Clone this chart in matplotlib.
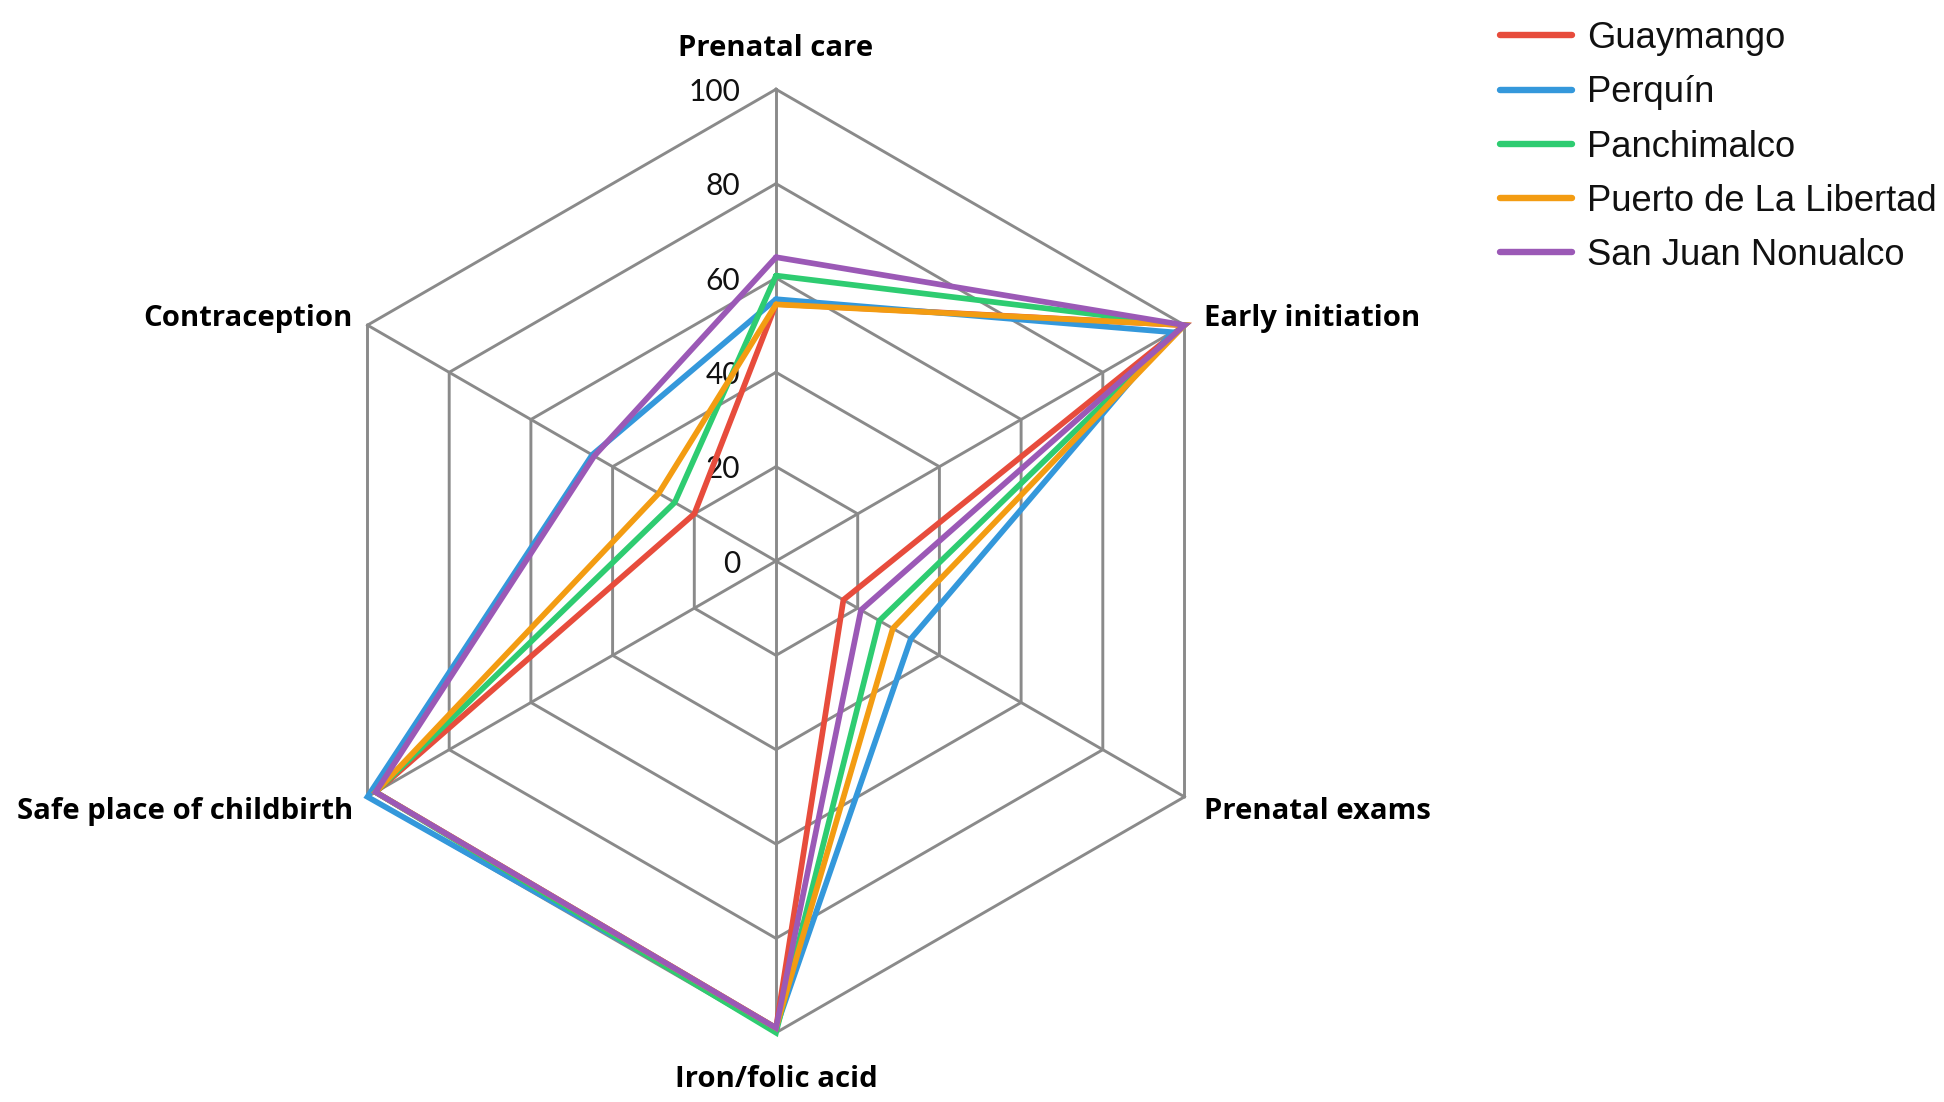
import numpy as np
import matplotlib
matplotlib.use("Agg")
import matplotlib.pyplot as plt

categories = ["Prenatal care", "Early initiation", "Prenatal exams",
              "Iron/folic acid", "Safe place of childbirth", "Contraception"]
series_names = ["Guaymango", "Perquín", "Panchimalco",
                "Puerto de La Libertad", "San Juan Nonualco"]
guaymango = [54.5, 100, 16.5, 99, 98, 20.0]
perquin = [55.5, 97, 33.0, 99, 100, 45.0]
panchimalco = [60.5, 100, 25.3, 100, 98, 24.8]
puerto = [54.4, 100, 28.6, 99, 98, 28.7]
san_juan = [64.4, 100, 20.8, 99, 98, 44.5]
tick_values = [0, 20, 40, 60, 80, 100]
tick_labels = ["0", "20", "40", "60", "80", "100"]

colors = ["#E74C3C", "#3498DB", "#2ECC71", "#F39C12", "#9B59B6"]
series = [guaymango, perquin, panchimalco, puerto, san_juan]

W, H = 1944, 1102
dpi = 100
fig = plt.figure(figsize=(W / dpi, H / dpi), dpi=dpi)
ax = fig.add_axes([0, 0, 1, 1])
cx, cy, R = 776.0, 561.0, 471.7
s = R / 100.0
ax.set_xlim(-cx / s, (W - cx) / s)
ax.set_ylim(-(H - cy) / s, cy / s)
ax.axis("off")

n = len(categories)
angles = np.deg2rad(90 - 60 * np.arange(n))
ca, sa = np.cos(angles), np.sin(angles)

grid_color = "#8A8A8A"
# hexagonal grid rings
for v in tick_values[1:]:
    xs = np.append(ca * v, ca[0] * v)
    ys = np.append(sa * v, sa[0] * v)
    ax.plot(xs, ys, color=grid_color, lw=2.1, zorder=1, solid_joinstyle="miter")
# spokes
for i in range(n):
    ax.plot([0, ca[i] * 100], [0, sa[i] * 100], color=grid_color, lw=2.1, zorder=1)

# tick labels
for v, lab in zip(tick_values, tick_labels):
    ax.text(-7.6, v - 0.6, lab, ha="right", va="center", fontsize=21.5,
            family="Lato", color="#111111", zorder=3)

# series
handles = []
for name, vals, col in zip(series_names, series, colors):
    v = np.asarray(vals, dtype=float)
    xs = np.append(ca * v, ca[0] * v[0])
    ys = np.append(sa * v, sa[0] * v[0])
    h, = ax.plot(xs, ys, color=col, lw=4.1, zorder=4, label=name,
                 solid_joinstyle="miter", solid_capstyle="round")
    handles.append(h)

# category labels
lab_kw = dict(fontsize=21.1, family="Open Sans", fontweight="bold", color="#000000")
ax.text(0, 100 + 8.6, categories[0], ha="center", va="center", **lab_kw)
ax.text(ca[1] * 100 + 4.2, sa[1] * 100 + 1.5, categories[1], ha="left", va="center", **lab_kw)
ax.text(ca[2] * 100 + 4.2, sa[2] * 100 - 3.0, categories[2], ha="left", va="center", **lab_kw)
ax.text(0, -100 - 9.9, categories[3], ha="center", va="center", **lab_kw)
ax.text(ca[4] * 100 - 3.1, sa[4] * 100 - 3.0, categories[4], ha="right", va="center", **lab_kw)
ax.text(ca[5] * 100 - 3.1, sa[5] * 100 + 1.5, categories[5], ha="right", va="center", **lab_kw)

leg = fig.legend(handles=handles, loc="upper left",
                 bbox_to_anchor=(1500 / W, 1 - 21 / H),
                 frameon=False, borderpad=0, borderaxespad=0,
                 handlelength=1.98, handletextpad=0.41, labelspacing=0.53,
                 prop={"family": "Liberation Sans", "size": 26.2})
for line in leg.get_lines():
    line.set_linewidth(4.6)
    line.set_solid_capstyle("round")
for t in leg.get_texts():
    t.set_color("#111111")

fig.savefig("out.png", dpi=dpi)
